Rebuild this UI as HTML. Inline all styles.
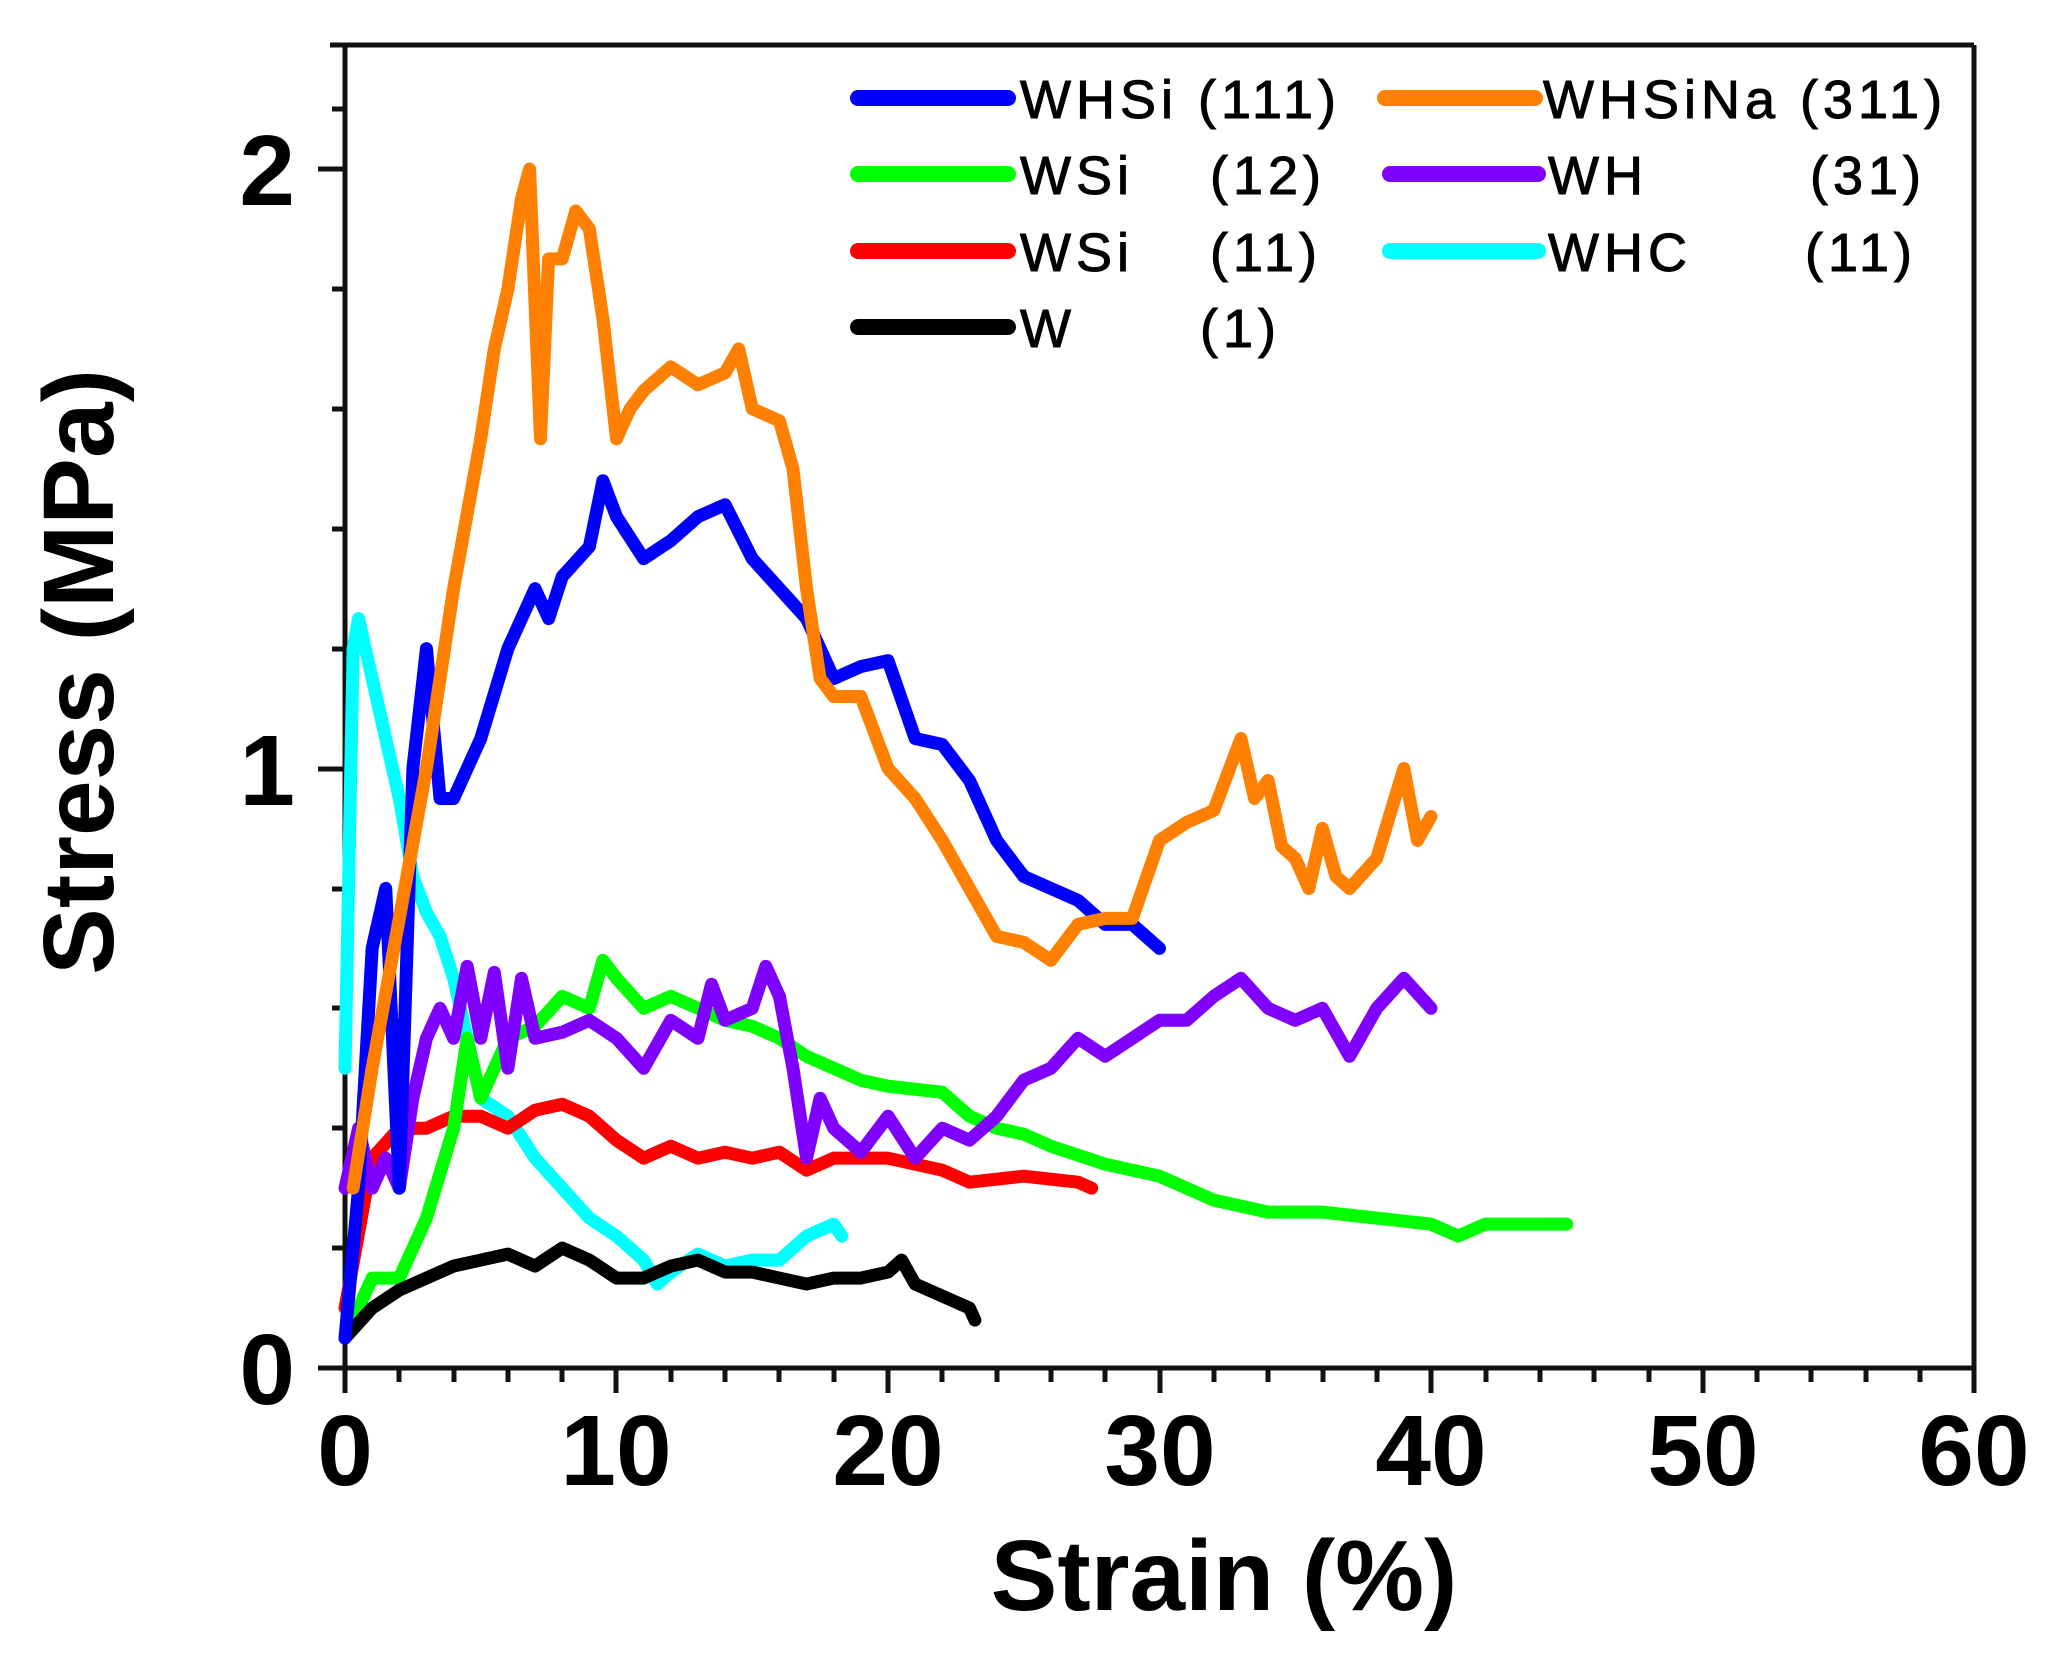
<!DOCTYPE html>
<html><head><meta charset="utf-8"><style>
html,body{margin:0;padding:0;background:#fff;}
svg{display:block;}
text{font-family:"Liberation Sans",Arial,sans-serif;}
</style></head><body>
<svg width="2051" height="1655" viewBox="0 0 2051 1655" xmlns="http://www.w3.org/2000/svg">
<rect width="2051" height="1655" fill="#fff"/>
<g stroke="#111" stroke-width="5" fill="none">
<line x1="330" y1="45" x2="1974" y2="45"/>
<line x1="1974" y1="45" x2="1974" y2="1393"/>
<line x1="345" y1="45" x2="345" y2="1393"/>
<line x1="318" y1="1368" x2="1974" y2="1368"/>
<line x1="318" y1="1368" x2="345" y2="1368"/>
<line x1="318" y1="769" x2="345" y2="769"/>
<line x1="318" y1="169" x2="345" y2="169"/>
<path d="M332 1248H345M332 1128H345M332 1008H345M332 889H345M332 649H345M332 529H345M332 409H345M332 289H345M332 109H345"/>
<path d="M345 1368V1393M616 1368V1393M888 1368V1393M1160 1368V1393M1431 1368V1393M1703 1368V1393M1974 1368V1393"/>
<path d="M399 1368V1382M454 1368V1382M508 1368V1382M562 1368V1382M671 1368V1382M725 1368V1382M779 1368V1382M834 1368V1382M942 1368V1382M997 1368V1382M1051 1368V1382M1105 1368V1382M1214 1368V1382M1268 1368V1382M1323 1368V1382M1377 1368V1382M1486 1368V1382M1540 1368V1382M1594 1368V1382M1649 1368V1382M1757 1368V1382M1811 1368V1382M1866 1368V1382M1920 1368V1382"/>
</g>
<g font-size="100" font-weight="bold" fill="#000" text-anchor="middle">
<text x="345" y="1485">0</text>
<text x="616" y="1485">10</text>
<text x="888" y="1485">20</text>
<text x="1160" y="1485">30</text>
<text x="1431" y="1485">40</text>
<text x="1703" y="1485">50</text>
<text x="1974" y="1485">60</text>
</g>
<g font-size="100" font-weight="bold" fill="#000" text-anchor="end">
<text x="295" y="1404">0</text>
<text x="295" y="805">1</text>
<text x="295" y="205">2</text>
</g>
<text x="1224" y="1610" font-size="100" font-weight="bold" text-anchor="middle">Strain (%)</text>
<text transform="translate(113,672) rotate(-90)" font-size="100" font-weight="bold" text-anchor="middle">Stress (MPa)</text>

<g transform="translate(345,1368) scale(27.15,-599.5)" fill="none" stroke-width="13" stroke-linejoin="round" stroke-linecap="round">
<polyline vector-effect="non-scaling-stroke" stroke="#00ffff" points="0,0.5 0.3,1.2 0.5,1.25 1,1.15 1.5,1.05 2,0.95 2.5,0.82 3,0.76 3.5,0.72 4,0.65 4.5,0.55 5,0.45 6,0.42 7,0.35 8,0.3 9,0.25 10,0.22 11,0.18 11.5,0.14 12,0.16 13,0.19 14,0.17 15,0.18 16,0.18 17,0.22 18,0.24 18.3,0.22"/>
<polyline vector-effect="non-scaling-stroke" stroke="#ff0000" points="0,0.1 1,0.35 2,0.4 3,0.4 4,0.42 5,0.42 6,0.4 7,0.43 8,0.44 9,0.42 10,0.38 11,0.35 12,0.37 13,0.35 14,0.36 15,0.35 16,0.36 17,0.33 18,0.35 20,0.35 21,0.34 22,0.33 23,0.31 25,0.32 27,0.31 27.5,0.3"/>
<polyline vector-effect="non-scaling-stroke" stroke="#00ff00" points="0,0.05 1,0.15 2,0.15 3,0.25 4,0.4 4.5,0.55 5,0.45 5.5,0.5 6,0.55 7,0.57 8,0.62 9,0.6 9.5,0.68 10,0.65 11,0.6 12,0.62 13,0.6 14,0.58 15,0.57 16,0.55 17,0.52 18,0.5 19,0.48 20,0.47 22,0.46 23,0.42 24,0.4 25,0.39 26,0.37 28,0.34 30,0.32 32,0.28 34,0.26 36,0.26 38,0.25 40,0.24 41,0.22 42,0.24 44,0.24 45,0.24"/>
<polyline vector-effect="non-scaling-stroke" stroke="#8000ff" points="0,0.3 0.5,0.4 1,0.3 1.5,0.35 2,0.3 2.5,0.45 3,0.55 3.5,0.6 4,0.55 4.5,0.67 5,0.55 5.5,0.66 6,0.5 6.5,0.65 7,0.55 8,0.56 9,0.58 10,0.55 11,0.5 12,0.58 13,0.55 13.5,0.64 14,0.58 15,0.6 15.5,0.67 16,0.62 16.5,0.5 17,0.35 17.5,0.45 18,0.4 19,0.36 20,0.42 21,0.35 22,0.4 23,0.38 24,0.42 25,0.48 26,0.5 27,0.55 28,0.52 29,0.55 30,0.58 31,0.58 32,0.62 33,0.65 34,0.6 35,0.58 36,0.6 37,0.52 38,0.6 39,0.65 40,0.6"/>
<polyline vector-effect="non-scaling-stroke" stroke="#000000" points="0,0.05 1,0.1 2,0.13 3,0.15 4,0.17 5,0.18 6,0.19 7,0.17 8,0.2 9,0.18 10,0.15 11,0.15 12,0.17 13,0.18 14,0.16 15,0.16 16,0.15 17,0.14 18,0.15 19,0.15 20,0.16 20.5,0.18 21,0.14 22,0.12 23,0.1 23.2,0.08"/>
<polyline vector-effect="non-scaling-stroke" stroke="#0000ff" points="0,0.05 0.5,0.3 1,0.7 1.5,0.8 2,0.3 2.5,1.0 3,1.2 3.5,0.95 4,0.95 5,1.05 6,1.2 7,1.3 7.5,1.25 8,1.32 9,1.37 9.5,1.48 10,1.42 11,1.35 12,1.38 13,1.42 14,1.44 15,1.35 16,1.3 17,1.25 18,1.15 19,1.17 20,1.18 21,1.05 22,1.04 23,0.98 24,0.88 25,0.82 26,0.8 27,0.78 28,0.74 29,0.74 30,0.7"/>
<polyline vector-effect="non-scaling-stroke" stroke="#ff8000" points="0.3,0.3 1,0.5 2,0.75 3,1.0 4,1.3 5,1.55 5.5,1.7 6,1.8 6.5,1.95 6.8,2.0 7.2,1.55 7.5,1.85 8,1.85 8.5,1.93 9,1.9 9.5,1.75 10,1.55 10.5,1.6 11,1.63 12,1.67 13,1.64 14,1.66 14.5,1.7 15,1.6 16,1.58 16.5,1.5 17,1.3 17.5,1.15 18,1.12 19,1.12 20,1.0 21,0.95 22,0.88 23,0.8 24,0.72 25,0.71 26,0.68 27,0.74 28,0.75 29,0.75 30,0.88 31,0.91 32,0.93 33,1.05 33.5,0.95 34,0.98 34.5,0.87 35,0.85 35.5,0.8 36,0.9 36.5,0.82 37,0.8 38,0.85 39,1.0 39.5,0.88 40,0.92"/>
</g>

<g stroke-width="16" stroke-linecap="round">
<line x1="858" y1="98" x2="1008" y2="98" stroke="#0000ff"/>
<line x1="858" y1="174" x2="1008" y2="174" stroke="#00ff00"/>
<line x1="858" y1="251" x2="1008" y2="251" stroke="#ff0000"/>
<line x1="858" y1="327" x2="1008" y2="327" stroke="#000"/>
<line x1="1385" y1="98" x2="1535" y2="98" stroke="#ff8000"/>
<line x1="1390" y1="174" x2="1538" y2="174" stroke="#8000ff"/>
<line x1="1390" y1="251" x2="1538" y2="251" stroke="#00ffff"/>
</g>
<g font-size="54" fill="#000" letter-spacing="5" stroke="#000" stroke-width="1">
<text x="1020" y="118">WHSi (111)</text>
<text x="1020" y="194">WSi</text><text x="1210" y="194">(12)</text>
<text x="1020" y="271">WSi</text><text x="1210" y="271">(11)</text>
<text x="1020" y="347">W</text><text x="1200" y="347">(1)</text>
<text x="1543" y="118">WHSiNa (311)</text>
<text x="1548" y="194">WH</text><text x="1810" y="194">(31)</text>
<text x="1548" y="271">WHC</text><text x="1805" y="271">(11)</text>
</g>
</svg>
</body></html>
